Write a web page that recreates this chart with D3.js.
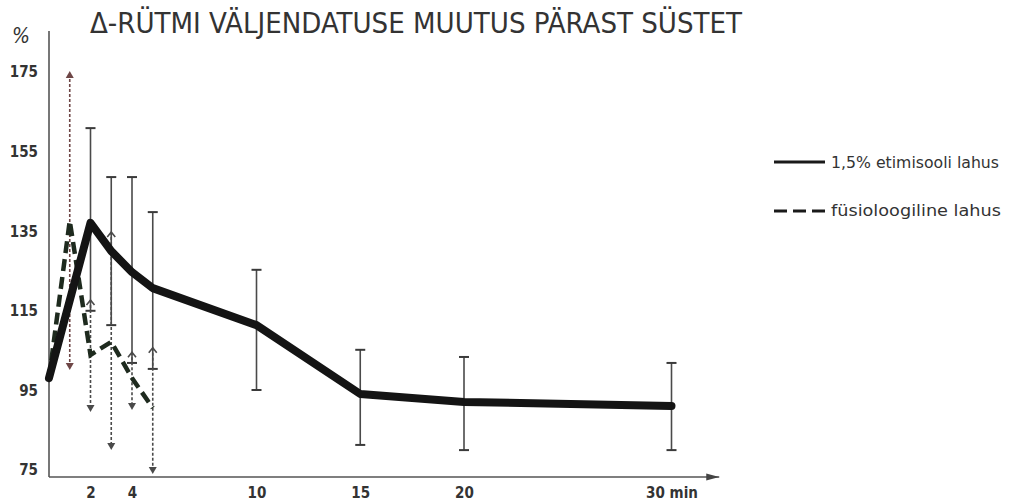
<!DOCTYPE html>
<html>
<head>
<meta charset="utf-8">
<script src="https://cdn.jsdelivr.net/npm/d3@7"></script>
<style>
  body { margin: 0; background: #ffffff; }
  svg { display: block; }
</style>
</head>
<body>
<svg id="chart" width="1015" height="503"></svg>
<script>
// ---- data ----
const titleText = "Δ-RÜTMI VÄLJENDATUSE MUUTUS PÄRAST SÜSTET";
const unitLabel = "%";
const yTicks = [75, 95, 115, 135, 155, 175];
const xTicks = [2, 4, 10, 15, 20, 30];
const xTickLabels = ["2", "4", "10", "15", "20", "30 min"];
const seriesNames = ["1,5% etimisooli lahus", "füsioloogiline lahus"];

// 1,5% etimisooli lahus (mean with spread)
const ethTime = [0, 2, 3, 4, 5, 10, 15, 20, 30];
const ethMean = [98.1, 137.1, 130.0, 124.7, 120.7, 111.4, 94.1, 92.1, 91.1];
const ethLow  = [null, 115.0, 111.4, 101.9, 100.4, 95.1, 81.3, 80.0, 80.0];
const ethHigh = [null, 160.9, 148.6, 148.6, 139.8, 125.3, 105.2, 103.4, 101.9];

// füsioloogiline lahus (mean with spread)
const fysTime = [0, 1, 2, 3, 4, 5];
const fysMean = [98.1, 137.6, 103.9, 107.2, 98.1, 90.6];
const fysLow  = [null, 100.6, 90.1, 80.5, 90.6, 74.5];
const fysHigh = [null, 174.5, 117.7, 134.8, 104.6, 105.7];

// ---- layout ----
const svg = d3.select("#chart");
const x = d3.scaleLinear().domain([0, 30]).range([49, 671.5]);
const y = d3.scaleLinear().domain([75, 175]).range([470, 72]);
const axisY = 477;
const ink = "#333333";
const handFont = "'DejaVu Sans Condensed', 'DejaVu Sans', sans-serif";

const eth = ethTime.map((t, i) => ({ t, m: ethMean[i], lo: ethLow[i], hi: ethHigh[i] }));
const fys = fysTime.map((t, i) => ({ t, m: fysMean[i], lo: fysLow[i], hi: fysHigh[i] }));

// title and unit
svg.append("text")
  .attr("x", 90).attr("y", 33)
  .attr("font-family", handFont).attr("font-size", 28)
  .attr("fill", ink)
  .attr("textLength", 652).attr("lengthAdjust", "spacingAndGlyphs")
  .text(titleText);

svg.append("text")
  .attr("x", 21).attr("y", 43)
  .attr("text-anchor", "middle")
  .attr("font-family", handFont).attr("font-size", 21)
  .attr("font-style", "italic")
  .attr("fill", ink)
  .text(unitLabel);

// axis lines
svg.append("line")
  .attr("x1", x(0)).attr("x2", x(0)).attr("y1", 31).attr("y2", axisY)
  .attr("stroke", "#555").attr("stroke-width", 1.6);
svg.append("line")
  .attr("x1", x(0)).attr("x2", x(32.3)).attr("y1", axisY).attr("y2", axisY)
  .attr("stroke", "#555").attr("stroke-width", 1.6);
svg.append("path")
  .attr("d", `M${x(32.3)},${axisY} l-13,-3.5 l0,7 Z`)
  .attr("fill", "#444");

// tick labels
const yAxis = svg.append("g")
  .attr("transform", "translate(40,0)")
  .call(d3.axisLeft(y).tickValues(yTicks).tickSize(0).tickPadding(2).tickFormat(d3.format("d")));
yAxis.select(".domain").remove();
yAxis.selectAll("text")
  .attr("font-family", handFont).attr("font-size", 15).attr("font-weight", "bold")
  .attr("fill", "#333");

const xAxis = svg.append("g")
  .attr("transform", `translate(0,${axisY})`)
  .call(d3.axisBottom(x).tickValues(xTicks).tickSize(0).tickPadding(10)
    .tickFormat((d, i) => xTickLabels[i]));
xAxis.select(".domain").remove();
xAxis.selectAll("text")
  .attr("font-family", handFont).attr("font-size", 15).attr("font-weight", "bold")
  .attr("fill", "#333");

// spread bars: 1,5% etimisooli lahus (solid with caps)
const ethBars = svg.append("g");
eth.filter(d => d.lo != null).forEach(d => {
  ethBars.append("line")
    .attr("x1", x(d.t)).attr("x2", x(d.t)).attr("y1", y(d.hi)).attr("y2", y(d.lo))
    .attr("stroke", "#4a4a4a").attr("stroke-width", 1.6);
  [d.hi, d.lo].forEach(v => {
    ethBars.append("line")
      .attr("x1", x(d.t) - 5).attr("x2", x(d.t) + 5).attr("y1", y(v)).attr("y2", y(v))
      .attr("stroke", "#3a3a3a").attr("stroke-width", 2);
  });
});

// spread bars: füsioloogiline lahus (dotted with arrows)
const fysBars = svg.append("g");
fys.filter(d => d.lo != null).forEach(d => {
  const col = d.t === 1 ? "#6e4646" : "#4a4a4a";
  const cx = x(d.t);
  fysBars.append("line")
    .attr("x1", cx).attr("x2", cx).attr("y1", y(d.hi)).attr("y2", y(d.lo))
    .attr("stroke", col).attr("stroke-width", 1.6).attr("stroke-dasharray", "3,2");
  // upper end
  if (d.t === 1) {
    fysBars.append("path")
      .attr("d", `M${cx},${y(d.hi) - 3} l-4,7 l8,0 Z`).attr("fill", col);
  } else {
    fysBars.append("path")
      .attr("d", `M${cx - 4},${y(d.hi) + 5} L${cx},${y(d.hi)} L${cx + 4},${y(d.hi) + 5}`)
      .attr("fill", "none").attr("stroke", col).attr("stroke-width", 1.6);
  }
  // lower end
  fysBars.append("path")
    .attr("d", `M${cx},${y(d.lo) + 2} l-4,-7 l8,0 Z`).attr("fill", col);
});

// mean lines
const line = d3.line().x(d => x(d.t)).y(d => y(d.m));

svg.append("path")
  .datum(fys)
  .attr("d", line)
  .attr("fill", "none")
  .attr("stroke", "#1e2a1e").attr("stroke-width", 4.5)
  .attr("stroke-dasharray", "12,6");

svg.append("path")
  .datum(eth)
  .attr("d", line)
  .attr("fill", "none")
  .attr("stroke", "#141414").attr("stroke-width", 8)
  .attr("stroke-linejoin", "round").attr("stroke-linecap", "round");

// legend
const legend = svg.append("g");
legend.append("line")
  .attr("x1", 774).attr("x2", 825).attr("y1", 162).attr("y2", 162)
  .attr("stroke", "#1a1a1a").attr("stroke-width", 3);
legend.append("line")
  .attr("x1", 774).attr("x2", 825).attr("y1", 211).attr("y2", 211)
  .attr("stroke", "#1a1a1a").attr("stroke-width", 3)
  .attr("stroke-dasharray", "13,6");
legend.append("text")
  .attr("x", 831).attr("y", 168)
  .attr("font-family", handFont).attr("font-size", 15)
  .attr("fill", "#333")
  .attr("textLength", 168).attr("lengthAdjust", "spacingAndGlyphs")
  .text(seriesNames[0]);
legend.append("text")
  .attr("x", 831).attr("y", 216)
  .attr("font-family", handFont).attr("font-size", 15)
  .attr("fill", "#333")
  .attr("textLength", 170).attr("lengthAdjust", "spacingAndGlyphs")
  .text(seriesNames[1]);
</script>
</body>
</html>
